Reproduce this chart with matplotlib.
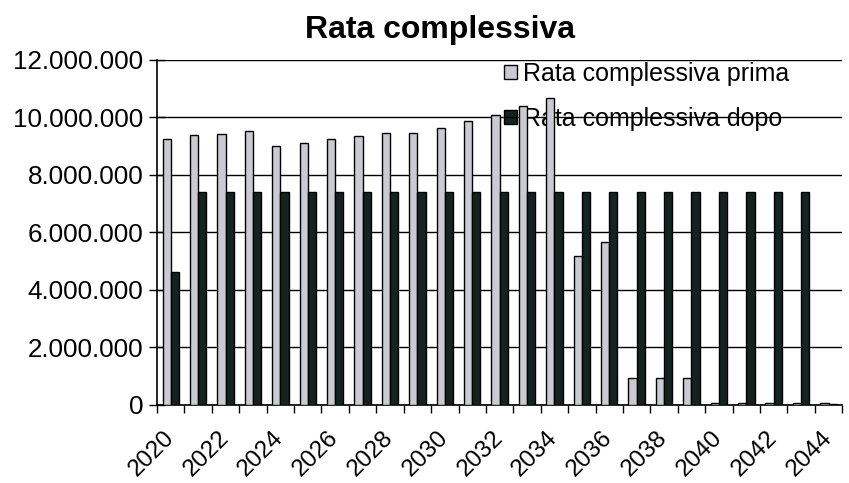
import matplotlib
matplotlib.use("Agg")
import matplotlib.pyplot as plt
import matplotlib.transforms as mtransforms
import numpy as np
from matplotlib.ticker import FuncFormatter, FixedLocator

years = list(range(2020, 2045))
prima = [9.24, 9.39, 9.43, 9.53, 9.01, 9.10, 9.24, 9.36, 9.47, 9.47, 9.62, 9.86, 10.09,
         10.38, 10.69, 5.19, 5.66, 0.95, 0.95, 0.95, 0.07, 0.07, 0.08, 0.08, 0.07]
dopo = [4.64, 7.40, 7.40, 7.40, 7.40, 7.40, 7.40, 7.40, 7.40, 7.40, 7.40, 7.40, 7.40,
        7.40, 7.40, 7.40, 7.40, 7.40, 7.40, 7.40, 7.40, 7.40, 7.40, 7.40, 0.03]
prima = [v * 1e6 for v in prima]
dopo = [v * 1e6 for v in dopo]
series_names = ["Rata complessiva prima", "Rata complessiva dopo"]
title = "Rata complessiva"

plt.rcParams['font.family'] = ['Liberation Sans', 'DejaVu Sans']

fig = plt.figure(figsize=(8.49, 4.83), dpi=100)
ax = fig.add_axes([0.185, 0.1615, 0.807, 0.7145])

x = np.arange(len(years))
w = 0.3
ax.bar(x - w/2, prima, width=w, color="#c9cad2", edgecolor="black", linewidth=1.0,
       label=series_names[0], zorder=3)
ax.bar(x + w/2, dopo, width=w, color="#142220", edgecolor="black", linewidth=1.0,
       label=series_names[1], zorder=3)

ax.set_ylim(0, 12e6)
ax.set_xlim(-0.5, len(years) - 0.5)
ax.set_yticks(np.arange(0, 12e6 + 1, 2e6))
ax.yaxis.set_major_formatter(FuncFormatter(lambda v, p: f"{int(v):,}".replace(",", ".")))
ax.set_axisbelow('line')
ax.grid(axis='y', color='black', linewidth=1.0)

ax.set_xticks(x[::2])
ax.set_xticklabels([str(y) for y in years[::2]], rotation=45, ha='right',
                   rotation_mode='anchor', fontsize=17.5)
ax.tick_params(axis='x', which='major', length=0, pad=10)
offset = mtransforms.ScaledTranslation(-8 / 100, -8 / 100, fig.dpi_scale_trans)
for lbl in ax.get_xticklabels():
    lbl.set_transform(lbl.get_transform() + offset)
ax.xaxis.set_minor_locator(FixedLocator(np.arange(-0.5, len(years), 1.0)))
ax.tick_params(axis='x', which='minor', length=6, width=1, direction='out', color='black')
ax.tick_params(axis='y', labelsize=18.7, length=12, width=1, direction='inout', pad=4)

for s in ['top', 'right']:
    ax.spines[s].set_visible(False)
ax.spines['left'].set_linewidth(1.2)
ax.spines['bottom'].set_linewidth(1.2)

fig.text(440 / 849, 1 - 30 / 483, title, fontsize=23, fontweight='bold',
         ha='center', va='center')

leg = ax.legend(loc='upper left', bbox_to_anchor=(0.507, 0.995), frameon=False, fontsize=18,
                handlelength=0.5, handleheight=0.5, handletextpad=0.25, labelspacing=0.85,
                borderaxespad=0.0, borderpad=0.0)
leg.set_zorder(1)

fig.savefig("out.png", dpi=100)
